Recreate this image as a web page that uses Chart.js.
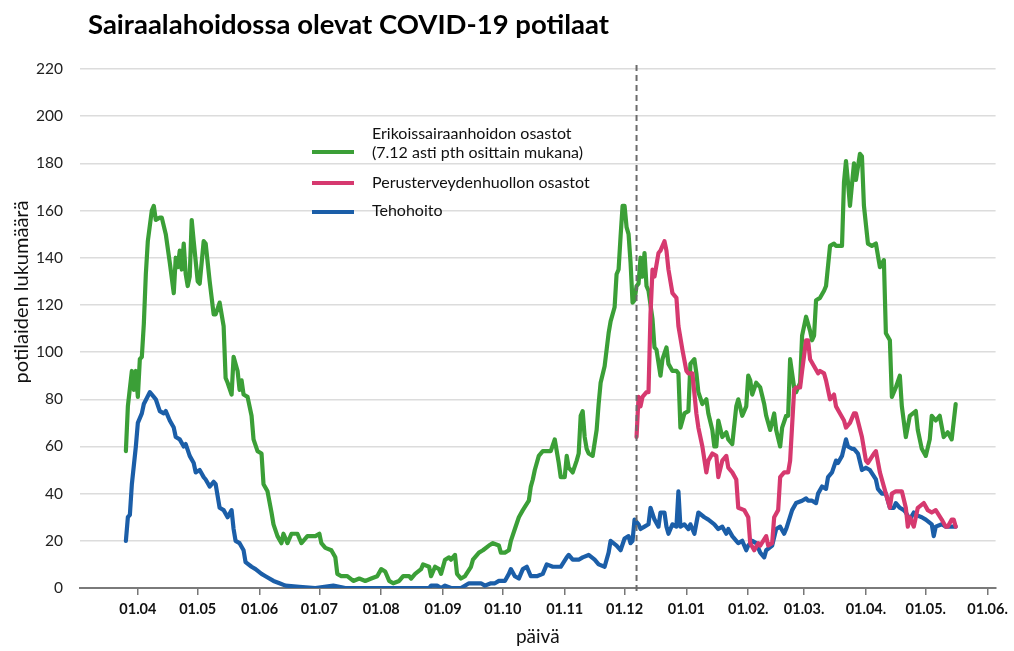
<!DOCTYPE html>
<html><head><meta charset="utf-8">
<script src="https://cdn.jsdelivr.net/npm/chart.js@4.4.1/dist/chart.umd.min.js"></script>
<style>html,body{margin:0;padding:0;background:#fff;}#wrap{width:1014px;height:651px;}</style>
</head><body><div id="wrap"><canvas id="c" width="1014" height="651"></canvas></div>
<script>
// ---- texts ----
const chartTitle = 'Sairaalahoidossa olevat COVID-19 potilaat';
const yAxisTitle = 'potilaiden lukumäärä';
const xAxisTitle = 'päivä';
const labelErikois = ['Erikoissairaanhoidon osastot', '(7.12 asti pth osittain mukana)'];
const labelPerus = 'Perusterveydenhuollon osastot';
const labelTeho = 'Tehohoito';

// ---- x axis: day number counted from 1.4.2020 ----
const tickDays = [0, 30, 61, 91, 122, 153, 183, 214, 244, 275, 306, 334, 365, 395, 426];
const tickLabels = ['01.04', '01.05', '01.06', '01.07', '01.08', '01.09', '01.10', '01.11', '01.12', '01.01', '01.02.', '01.03.', '01.04.', '01.05.', '01.06.'];
const dividerDay = 250; // 7.12.2020
const yTicks = [0, 20, 40, 60, 80, 100, 120, 140, 160, 180, 200, 220];

// ---- series: [day, patients] ----
const erikoisPoints = [[-6,58],[-5,77],[-3,92],[-2,84],[-1,92],[0,81],[1,97],[2,98],[3,112],[4,133],[5,147],[7,160],[8,162],[9,156],[11,157],[12,157],[14,150],[16,138],[18,125],[19,140],[20,136],[21,143],[22,135],[23,146],[24,133],[25,128],[26,132],[27,156],[28,147],[30,130],[31,129],[33,147],[34,146],[36,130],[38,116],[39,116],[41,121],[43,111],[44,89],[45,87],[47,82],[48,98],[50,92],[51,84],[52,88],[53,82],[55,81],[57,73],[58,63],[60,58],[62,57],[63,44],[65,41],[67,32],[68,27],[70,22],[72,19],[73,23],[75,19],[77,23],[80,23],[82,19],[85,22],[89,22],[91,23],[92,19],[94,17],[97,16],[99,13],[100,6],[102,5],[105,5],[108,3],[111,4],[114,3],[117,4],[120,5],[122,8],[124,7],[126,3],[128,2],[131,3],[133,5],[136,5],[137,4],[139,6],[142,8],[143,10],[146,9],[147,5],[149,9],[151,8],[152,6],[154,12],[156,13],[157,12],[159,14],[160,6],[162,4],[164,5],[167,9],[168,12],[171,15],[173,16],[176,18],[178,19],[181,18],[182,15],[184,15],[186,16],[187,20],[189,25],[191,30],[193,33],[196,37],[197,43],[198,46],[199,50],[201,56],[203,58],[205,58],[207,58],[209,63],[211,53],[212,47],[214,47],[215,56],[216,51],[218,49],[220,54],[221,57],[222,73],[223,75],[224,64],[225,59],[226,57],[228,56],[230,67],[231,78],[232,87],[234,94],[236,108],[237,113],[239,119],[240,133],[241,135],[242,149],[243,162],[244,162],[245,153],[246,150],[247,138],[248,121],[249,122],[250,128],[251,129],[252,140],[253,132],[254,142],[255,128],[256,126],[258,114],[259,102],[260,101],[262,90],[263,97],[265,102],[266,95],[268,92],[270,92],[271,91],[272,68],[274,74],[276,75],[277,95],[279,97],[280,91],[281,83],[283,78],[285,80],[286,74],[288,67],[289,60],[290,60],[291,71],[293,64],[295,66],[296,63],[298,61],[300,77],[301,80],[303,73],[305,77],[306,90],[307,88],[308,82],[310,87],[312,85],[314,78],[315,73],[317,67],[319,74],[320,67],[322,60],[323,68],[325,73],[326,73],[327,97],[329,85],[330,83],[331,85],[332,87],[333,107],[335,115],[337,109],[338,105],[339,107],[340,122],[342,123],[344,126],[345,128],[347,145],[349,146],[350,145],[353,145],[354,172],[355,181],[356,172],[357,162],[359,180],[360,173],[362,184],[363,183],[364,162],[366,146],[368,145],[370,146],[372,136],[374,139],[375,108],[377,105],[378,81],[380,85],[382,90],[383,77],[385,64],[387,73],[390,75],[391,67],[393,59],[395,56],[397,63],[398,73],[400,71],[402,73],[404,64],[406,66],[408,63],[410,78]];

const perusPoints = [[250,64],[251,81],[252,77],[253,81],[255,83],[256,83],[257,116],[258,135],[259,132],[261,142],[262,143],[264,147],[265,143],[266,135],[268,125],[270,123],[271,111],[273,101],[275,92],[276,91],[278,91],[280,74],[281,68],[283,60],[285,49],[286,54],[288,57],[290,56],[291,47],[293,54],[295,56],[296,51],[298,49],[300,46],[301,34],[304,33],[306,30],[307,19],[309,16],[311,19],[312,18],[315,22],[316,18],[318,19],[319,30],[321,33],[322,47],[324,49],[326,49],[327,54],[329,84],[330,85],[332,85],[333,92],[335,105],[336,105],[337,97],[339,94],[341,91],[342,92],[344,91],[345,88],[347,80],[349,82],[350,77],[352,74],[354,71],[355,68],[357,70],[359,74],[360,74],[363,64],[365,54],[366,53],[369,57],[370,58],[372,49],[374,43],[375,40],[377,34],[378,40],[380,41],[383,41],[385,34],[386,26],[387,30],[389,26],[391,34],[394,36],[396,33],[398,32],[400,33],[403,29],[405,26],[406,26],[408,29],[409,29],[410,26]];

const tehoPoints = [[-6,20],[-5,30],[-4,31],[-3,44],[-1,60],[0,70],[2,74],[3,78],[6,83],[8,81],[9,80],[11,75],[13,74],[14,75],[16,71],[18,68],[19,64],[21,63],[23,60],[24,61],[26,56],[28,53],[29,49],[31,50],[33,47],[34,46],[36,43],[38,45],[39,44],[41,34],[43,33],[45,30],[47,33],[48,25],[49,20],[51,19],[53,16],[54,11],[57,9],[59,8],[62,6],[64,5],[68,3],[71,2],[74,1],[81,0.5],[89,0],[98,1],[104,0],[111,0],[124,0],[130,0],[140,0],[146,0],[147,1],[150,1],[152,0],[154,1],[157,0],[162,0],[166,2],[169,2],[172,2],[174,1],[177,2],[179,2],[181,3],[184,3],[186,6],[187,8],[189,5],[191,4],[193,8],[195,9],[197,5],[200,5],[203,6],[205,10],[208,9],[212,9],[215,13],[216,14],[218,12],[221,12],[223,13],[226,14],[229,12],[231,10],[234,9],[236,15],[237,20],[240,18],[242,16],[244,21],[246,22],[247,19],[248,20],[249,29],[251,27],[252,25],[254,26],[256,27],[257,34],[259,29],[261,26],[262,32],[264,32],[265,26],[266,23],[268,27],[270,26],[271,41],[272,26],[274,27],[276,25],[277,27],[279,23],[281,32],[284,30],[286,29],[289,27],[291,25],[293,26],[295,23],[296,25],[298,22],[300,20],[301,19],[303,20],[305,16],[306,18],[308,20],[310,19],[312,15],[314,13],[315,16],[318,18],[320,25],[322,26],[324,23],[325,25],[328,33],[330,36],[333,37],[335,38],[336,37],[338,37],[340,36],[341,40],[343,43],[345,42],[346,47],[348,49],[350,54],[351,53],[353,56],[355,63],[356,60],[358,59],[359,59],[361,57],[363,50],[365,51],[367,50],[370,46],[371,42],[373,40],[375,40],[377,34],[379,34],[380,36],[382,34],[384,33],[385,32],[387,29],[389,32],[390,31],[393,30],[395,29],[398,27],[399,22],[400,26],[403,27],[405,26],[408,26],[410,26]];

const GREEN = '#3b9f37', PINK = '#d6396f', BLUE = '#1b5ea8';
const FONT = 'Lato';
const toXY = pts => pts.map(p => ({x: p[0], y: p[1]}));

const decor = {
  id: 'decor',
  afterDatasetsDraw(chart) {
    const {ctx, chartArea, scales: {x}} = chart;
    const px = x.getPixelForValue(dividerDay);
    ctx.save();
    ctx.strokeStyle = '#6b6b6b'; ctx.lineWidth = 2; ctx.setLineDash([6, 4]);
    ctx.beginPath(); ctx.moveTo(px, chartArea.top - 4); ctx.lineTo(px, chartArea.bottom + 6); ctx.stroke();
    ctx.restore();
  },
  afterDraw(chart) {
    const {ctx} = chart;
    ctx.save();
    // main title
    ctx.fillStyle = '#000'; ctx.textBaseline = 'middle'; ctx.textAlign = 'left';
    ctx.font = 'bold 27.5px ' + FONT;
    ctx.fillText(chartTitle, 88, 25);
    // y title
    ctx.save();
    ctx.translate(22, 292); ctx.rotate(-Math.PI / 2);
    ctx.textAlign = 'center'; ctx.font = '20px ' + FONT; ctx.fillStyle = '#111';
    ctx.fillText(yAxisTitle, 0, 0);
    ctx.restore();
    // legend
    const entries = [
      {ds: 0, lineY: 152, textY: [134, 153]},
      {ds: 1, lineY: 183, textY: [183]},
      {ds: 2, lineY: 212, textY: [211]}
    ];
    ctx.font = '16px ' + FONT; ctx.fillStyle = '#111'; ctx.textAlign = 'left';
    entries.forEach(e => {
      const d = chart.data.datasets[e.ds];
      ctx.strokeStyle = d.borderColor; ctx.lineWidth = 4; ctx.setLineDash([]);
      ctx.beginPath(); ctx.moveTo(312, e.lineY); ctx.lineTo(354, e.lineY); ctx.stroke();
      const lines = Array.isArray(d.label) ? d.label : [d.label];
      lines.forEach((t, i) => ctx.fillText(t, 372, e.textY[i]));
    });
    ctx.restore();
  }
};

new Chart(document.getElementById('c'), {
  type: 'line',
  data: {
    datasets: [
      {label: labelErikois, data: toXY(erikoisPoints), borderColor: GREEN, order: 2},
      {label: labelPerus, data: toXY(perusPoints), borderColor: PINK, order: 0},
      {label: labelTeho, data: toXY(tehoPoints), borderColor: BLUE, order: 1}
    ]
  },
  options: {
    responsive: false, animation: false, devicePixelRatio: 1,
    layout: {padding: {top: 69, right: 14, left: 0, bottom: 0}},
    elements: {
      line: {borderWidth: 4.2, tension: 0, borderJoinStyle: 'round', borderCapStyle: 'round', fill: false},
      point: {radius: 0, hoverRadius: 0}
    },
    plugins: {legend: {display: false}, title: {display: false}, tooltip: {enabled: false}},
    scales: {
      x: {
        type: 'linear', min: -29, max: 430,
        afterBuildTicks: s => { s.ticks = tickDays.map(v => ({value: v})); },
        afterFit: s => { s.height = 63; },
        ticks: {
          autoSkip: false, maxRotation: 0, minRotation: 0, padding: 6,
          color: '#111', font: {family: FONT, size: 14.5, weight: 'bold'},
          callback: v => tickLabels[tickDays.indexOf(v)]
        },
        grid: {display: true, drawOnChartArea: false, drawTicks: true, tickLength: 7, color: '#777', lineWidth: 1.5},
        border: {display: true, color: '#7a7a7a', width: 2},
        title: {display: true, text: xAxisTitle, color: '#111', font: {family: FONT, size: 19}, padding: {top: 0, bottom: 3}}
      },
      y: {
        type: 'linear', min: 0, max: 220,
        afterBuildTicks: s => { s.ticks = yTicks.map(v => ({value: v})); },
        afterFit: s => { s.width = 80; },
        ticks: {padding: 17, color: '#222', font: {family: FONT, size: 15.5}},
        grid: {color: '#dcdcdc', lineWidth: 1.5, drawTicks: false},
        border: {display: false}
      }
    }
  },
  plugins: [decor]
});
</script></body></html>
